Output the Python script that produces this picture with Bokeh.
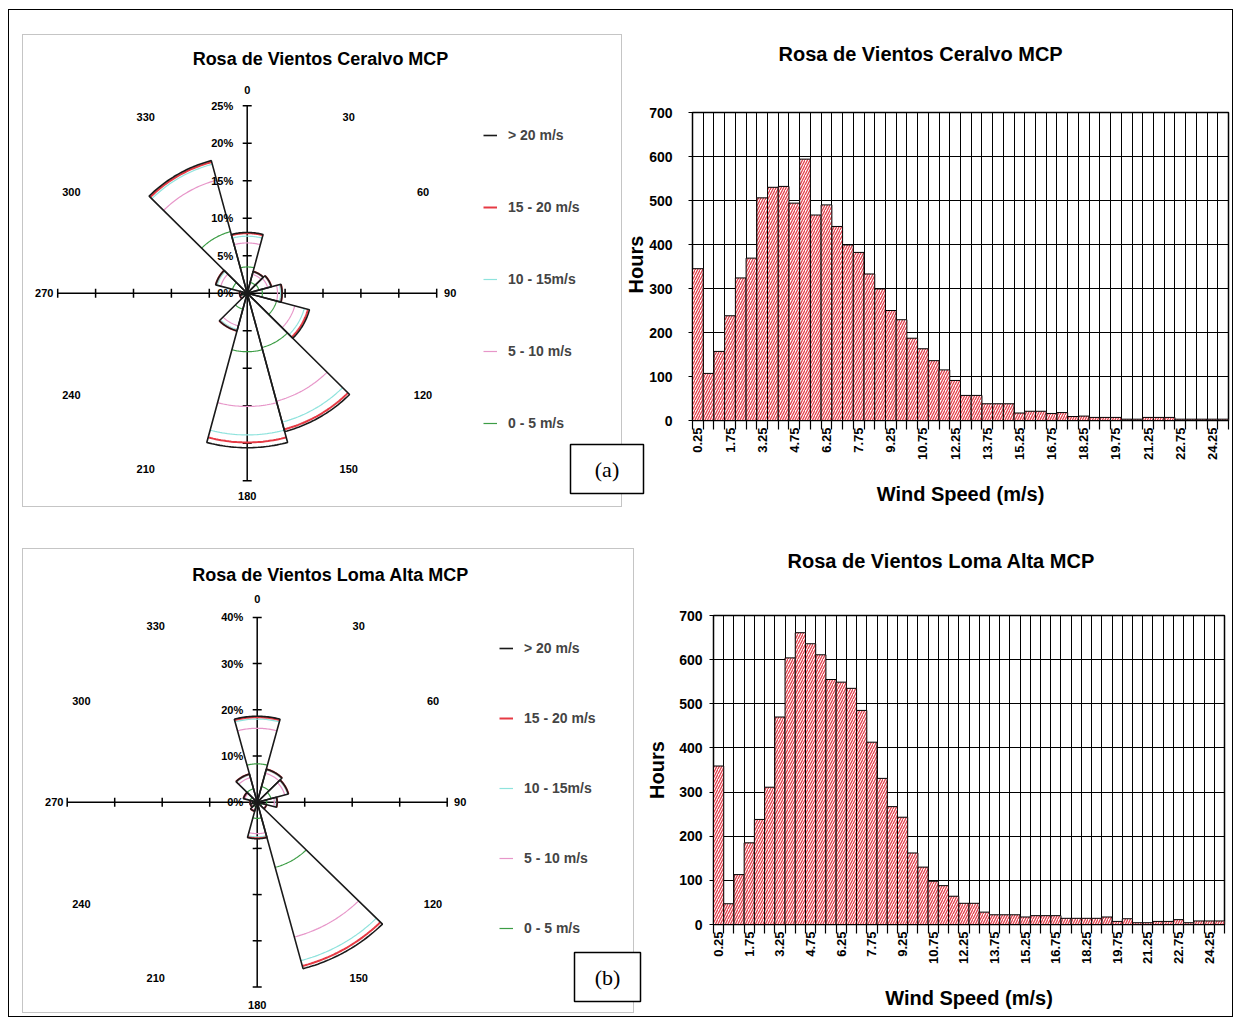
import math
import numpy as np
from bokeh.plotting import figure
from bokeh.models import Range1d, FixedTicker, Legend, LegendItem, Title
from bokeh.layouts import row, column
from bokeh.embed import file_html
from bokeh.resources import INLINE
from bokeh.core.properties import value

# ---------------- DATA ----------------
directions = [0, 30, 60, 90, 120, 150, 180, 210, 240, 270, 300, 330]
direction_labels = ["0", "30", "60", "90", "120", "150", "180", "210", "240", "270", "300", "330"]
speed_classes = ["0 - 5 m/s", "5 - 10 m/s", "10 - 15m/s", "15 - 20 m/s", "> 20 m/s"]

# Ceralvo: percent of time per sector and speed class
ceralvo_0_5 = [3.5, 1.5, 1.6, 2.0, 4.0, 7.5, 7.8, 2.2, 0.5, 0.5, 2.0, 8.5]
ceralvo_5_10 = [3.2, 1.1, 1.2, 2.0, 2.5, 7.4, 7.3, 2.3, 0.4, 0.4, 1.6, 7.1]
ceralvo_10_15 = [0.9, 0.3, 0.4, 0.4, 1.3, 2.9, 3.8, 0.5, 0.1, 0.1, 0.5, 2.2]
ceralvo_15_20 = [0.4, 0.1, 0.1, 0.2, 0.5, 1.0, 1.0, 0.2, 0.0, 0.0, 0.2, 0.3]
ceralvo_20p = [0.1, 0.0, 0.0, 0.0, 0.2, 0.3, 0.7, 0.0, 0.0, 0.0, 0.0, 0.2]
ceralvo_pct_ticks = [0, 5, 10, 15, 20, 25]
ceralvo_pct_labels = ["0%", "5%", "10%", "15%", "20%", "25%"]

# Loma Alta
loma_0_5 = [8.3, 3.5, 3.0, 2.0, 1.0, 14.6, 3.5, 1.0, 0.8, 0.8, 1.5, 3.0]
loma_5_10 = [7.7, 3.0, 3.0, 1.6, 0.8, 15.6, 3.3, 0.8, 0.5, 0.5, 1.2, 2.5]
loma_10_15 = [2.0, 0.7, 0.6, 0.4, 0.2, 5.3, 0.7, 0.2, 0.2, 0.2, 0.3, 0.6]
loma_15_20 = [0.4, 0.2, 0.2, 0.2, 0.0, 1.2, 0.3, 0.0, 0.0, 0.0, 0.0, 0.2]
loma_20p = [0.2, 0.0, 0.0, 0.0, 0.0, 0.6, 0.1, 0.0, 0.0, 0.0, 0.0, 0.0]
loma_pct_ticks = [0, 10, 20, 30, 40]
loma_pct_labels = ["0%", "10%", "20%", "30%", "40%"]

# Histograms: hours per 0.5 m/s bin
wind_speed_bins = [0.25, 0.75, 1.25, 1.75, 2.25, 2.75, 3.25, 3.75, 4.25, 4.75,
                   5.25, 5.75, 6.25, 6.75, 7.25, 7.75, 8.25, 8.75, 9.25, 9.75,
                   10.25, 10.75, 11.25, 11.75, 12.25, 12.75, 13.25, 13.75, 14.25, 14.75,
                   15.25, 15.75, 16.25, 16.75, 17.25, 17.75, 18.25, 18.75, 19.25, 19.75,
                   20.25, 20.75, 21.25, 21.75, 22.25, 22.75, 23.25, 23.75, 24.25, 24.75]
ceralvo_hours = [345, 107, 157, 238, 324, 369, 506, 530, 532, 494,
                 594, 467, 490, 441, 399, 382, 333, 299, 250, 229,
                 187, 163, 136, 115, 91, 57, 57, 38, 38, 38,
                 17, 21, 21, 16, 18, 9, 10, 7, 7, 7,
                 3, 3, 7, 7, 7, 3, 3, 3, 3, 3]
loma_hours = [359, 47, 113, 185, 238, 311, 470, 604, 661, 636,
              611, 555, 549, 535, 485, 413, 331, 267, 243, 162,
              130, 98, 88, 64, 48, 48, 28, 22, 22, 22,
              17, 20, 20, 20, 14, 14, 14, 14, 17, 7,
              13, 4, 4, 7, 7, 11, 4, 8, 8, 8]
speed_tick_values = [0.25, 1.75, 3.25, 4.75, 6.25, 7.75, 9.25, 10.75, 12.25,
                     13.75, 15.25, 16.75, 18.25, 19.75, 21.25, 22.75, 24.25]
speed_tick_labels = ["0.25", "1.75", "3.25", "4.75", "6.25", "7.75", "9.25", "10.75", "12.25",
                     "13.75", "15.25", "16.75", "18.25", "19.75", "21.25", "22.75", "24.25"]
hours_ticks = [0, 100, 200, 300, 400, 500, 600, 700]

# ---------------- STYLE ----------------
FONT = "Liberation Sans"
NARROW = "'Liberation Sans Narrow', 'Liberation Sans', sans-serif"
SERIF = "Liberation Serif"
CLASS_COLORS = ["#3c9d45", "#e796c9", "#8fe3dd", "#e63a44", "#1a1a1a"]
CLASS_WIDTHS = [1.2, 1.2, 1.2, 2.0, 1.6]
HATCH = "#e3404c"
OX, OY = 9, 10  # page position of layout content


def make_rose(width, height, left_px, top_px, center, scale, classes, pct_ticks, pct_labels,
              axis_max, title, title_xy, panel, box, box_text, legend_xy, legend_spacing,
              label_radius_px, extra_text=None):
    cx, cy = center
    sx, sy = scale
    xr = Range1d((left_px - cx) / sx, (left_px + width - cx) / sx)
    yr = Range1d((cy - (top_px + height)) / sy, (cy - top_px) / sy)
    p = figure(width=width, height=height, x_range=xr, y_range=yr, output_backend="svg",
               toolbar_location=None, min_border=0, x_axis_type=None, y_axis_type=None)
    p.grid.visible = False
    p.outline_line_color = None
    p.background_fill_color = "white"
    p.border_fill_color = "white"

    def dx(px):
        return (px - cx) / sx

    def dy(py):
        return (cy - py) / sy

    # panel border
    p.quad(left=[dx(panel[0])], right=[dx(panel[2])], top=[dy(panel[1])], bottom=[dy(panel[3])],
           fill_alpha=0, line_color="#8a8a8a", line_width=1, line_dash="1 1")

    # axes
    R = axis_max
    p.segment(x0=[-R, 0], y0=[0, -R], x1=[R, 0], y1=[0, R], line_color="black", line_width=1.5)
    tks = [t for t in pct_ticks if t > 0]
    tx = tks + [-t for t in tks]
    t_len_y = 4.5 / sy
    t_len_x = 4.5 / sx
    p.segment(x0=tx, y0=[-t_len_y] * len(tx), x1=tx, y1=[t_len_y] * len(tx),
              line_color="black", line_width=1.5)
    p.segment(x0=[-t_len_x] * len(tx), y0=tx, x1=[t_len_x] * len(tx), y1=tx,
              line_color="black", line_width=1.5)

    # sectors
    cum = np.cumsum(np.array(classes, dtype=float), axis=0)
    renderers = []
    for k in range(4):
        xs, ys = [], []
        for i, d in enumerate(directions):
            r = cum[k][i]
            if r <= 0:
                continue
            a = np.radians(np.linspace(d - 15, d + 15, 31))
            xs.append(list(r * np.sin(a)))
            ys.append(list(r * np.cos(a)))
        renderers.append(p.multi_line(xs=xs, ys=ys, line_color=CLASS_COLORS[k],
                                      line_width=CLASS_WIDTHS[k]))
    xs, ys = [], []
    for i, d in enumerate(directions):
        r = cum[4][i]
        a = np.radians(np.linspace(d - 15, d + 15, 31))
        xs.append([0.0] + list(r * np.sin(a)) + [0.0])
        ys.append([0.0] + list(r * np.cos(a)) + [0.0])
    renderers.append(p.multi_line(xs=xs, ys=ys, line_color=CLASS_COLORS[4],
                                  line_width=CLASS_WIDTHS[4]))

    # direction labels
    ang = np.radians(directions)
    lx = list(label_radius_px * np.sin(ang) / sx)
    ly = list(label_radius_px * np.cos(ang) / sy)
    p.text(x=lx, y=ly, text=direction_labels, text_font=value(FONT), text_font_style="bold",
           text_font_size="11px", text_align="center", text_baseline="middle", text_color="black")
    # percent labels
    p.text(x=[0] * len(pct_ticks), y=pct_ticks, text=pct_labels, x_offset=-14,
           text_font=value(FONT), text_font_style="bold", text_font_size="11px",
           text_align="right", text_baseline="middle", text_color="black")

    # title
    p.text(x=[dx(title_xy[0])], y=[dy(title_xy[1])], text=[title], text_font=value(FONT),
           text_font_style="bold", text_font_size="18px", text_align="center",
           text_baseline="middle", text_color="black")

    # label box
    p.quad(left=[dx(box[0])], right=[dx(box[2])], top=[dy(box[1])], bottom=[dy(box[3])],
           fill_color="white", line_color="black", line_width=1.5)
    p.text(x=[dx((box[0] + box[2]) / 2)], y=[dy((box[1] + box[3]) / 2)], text=[box_text],
           text_font=value(SERIF), text_font_size="22px", text_align="center",
           text_baseline="middle", text_color="black")

    if extra_text is not None:
        t, ex, ey = extra_text
        p.text(x=[dx(ex)], y=[dy(ey)], text=[t], angle=math.pi / 2, text_font=value(FONT),
               text_font_style="bold", text_font_size="20px", text_align="center",
               text_baseline="middle", text_color="black")

    # legend (top entry first)
    items = [LegendItem(label=speed_classes[k], renderers=[renderers[k]]) for k in [4, 3, 2, 1, 0]]
    item_h = 16
    lg_h = 5 * item_h + 4 * legend_spacing
    lg = Legend(items=items,
                location=(legend_xy[0] - left_px, (top_px + height) - (legend_xy[1] + lg_h)),
                orientation="vertical", glyph_width=14, glyph_height=item_h, label_height=item_h,
                spacing=legend_spacing, label_standoff=11, padding=0, margin=0,
                border_line_color=None, background_fill_alpha=0,
                label_text_font=FONT, label_text_font_style="bold", label_text_font_size="14px")
    p.add_layout(lg)
    return p


def make_hist(width, height, left_px, top_px, frame, hours, title, title_left, spacer_standoff,
              ylabel, ytick_standoff, xlabel_standoff):
    fl, ft, fr, fb = frame
    p = figure(width=width, height=height, x_range=Range1d(0, 25), y_range=Range1d(0, 700),
               output_backend="svg", toolbar_location=None, title=None,
               min_border_left=fl - left_px, min_border_right=left_px + width - fr,
               min_border_top=ft - top_px, min_border_bottom=top_px + height - fb)
    p.background_fill_color = "white"
    p.border_fill_color = "white"
    p.outline_line_color = "black"
    p.outline_line_width = 1.5

    edges = [b - 0.25 for b in wind_speed_bins] + [wind_speed_bins[-1] + 0.25]
    p.vbar(x=wind_speed_bins, top=hours, bottom=0, width=0.5, fill_color="white",
           line_color="black", line_width=1, hatch_pattern="/", hatch_color=HATCH,
           hatch_weight=1.3, hatch_scale=5)

    p.xgrid.ticker = FixedTicker(ticks=edges)
    p.xgrid.grid_line_color = "black"
    p.xgrid.grid_line_width = 1
    p.ygrid.ticker = FixedTicker(ticks=hours_ticks)
    p.ygrid.grid_line_color = "black"
    p.ygrid.grid_line_width = 1

    xa = p.xaxis[0]
    xa.ticker = FixedTicker(ticks=speed_tick_values, minor_ticks=edges)
    xa.major_label_overrides = {v: s for v, s in zip(speed_tick_values, speed_tick_labels)}
    xa.major_label_orientation = math.pi / 2
    xa.major_tick_line_color = None
    xa.major_tick_out = 0
    xa.major_tick_in = 0
    xa.minor_tick_out = 9
    xa.minor_tick_in = 0
    xa.minor_tick_line_color = "black"
    xa.minor_tick_line_width = 1.2
    xa.major_label_standoff = -2
    xa.major_label_text_font = FONT
    xa.major_label_text_font_style = "bold"
    xa.major_label_text_font_size = "13px"
    xa.major_label_text_color = "black"
    xa.axis_line_color = "black"
    xa.axis_label = "Wind Speed (m/s)"
    xa.axis_label_text_font = FONT
    xa.axis_label_text_font_style = "bold"
    xa.axis_label_text_font_size = "20px"
    xa.axis_label_text_color = "black"
    xa.axis_label_standoff = xlabel_standoff

    ya = p.yaxis[0]
    ya.ticker = FixedTicker(ticks=hours_ticks)
    ya.major_tick_out = 4
    ya.major_tick_in = 0
    ya.minor_tick_line_color = None
    ya.major_label_standoff = ytick_standoff
    ya.major_label_text_font = NARROW
    ya.major_label_text_font_style = "bold"
    ya.major_label_text_font_size = "14px"
    ya.major_label_text_color = "black"
    ya.axis_line_color = "black"
    if ylabel:
        ya.axis_label = ylabel
        ya.axis_label_text_font = FONT
        ya.axis_label_text_font_style = "bold"
        ya.axis_label_text_font_size = "20px"
        ya.axis_label_text_color = "black"
        ya.axis_label_standoff = 8

    # empty spacer title next to the frame, then the real title above it
    p.add_layout(Title(text=" ", text_font_size="20px", standoff=spacer_standoff), "above")
    p.add_layout(Title(text=title, text_font=FONT, text_font_style="bold", text_font_size="20px",
                       text_color="black", align="left", offset=title_left - fl, standoff=0),
                 "above")
    return p


ceralvo_classes = [ceralvo_0_5, ceralvo_5_10, ceralvo_10_15, ceralvo_15_20, ceralvo_20p]
loma_classes = [loma_0_5, loma_5_10, loma_10_15, loma_15_20, loma_20p]

rose_a = make_rose(636, 514, OX, OY, (246.7, 292.7), (7.58, 7.5), ceralvo_classes,
                   ceralvo_pct_ticks, ceralvo_pct_labels, 25, "Rosa de Vientos Ceralvo MCP",
                   (320, 58), (22, 34, 621, 506), (570, 444, 643, 493), "(a)",
                   (483, 127), 56, 203, extra_text=("Hours", 635, 264))
hist_a = make_hist(587, 514, 645, OY, (692, 112, 1228, 420), ceralvo_hours,
                   "Rosa de Vientos Ceralvo MCP", 778, 24, None, 16, 20)

rose_b = make_rose(634, 492, OX, 524, (256.7, 801.7), (4.75, 4.62), loma_classes,
                   loma_pct_ticks, loma_pct_labels, 40, "Rosa de Vientos Loma Alta MCP",
                   (330, 574), (22, 548, 633, 1012), (574, 952, 640, 1001), "(b)",
                   (499, 640), 54, 203)
hist_b = make_hist(589, 492, 643, 524, (703, 615, 1224, 924), loma_hours,
                   "Rosa de Vientos Loma Alta MCP", 777, 20, "Hours", 7, 20)

row_a = row(column(rose_a), column(hist_a))
row_b = row(column(rose_b), column(hist_b))
layout = column(row_a, row_b, margin=(9, 0, 0, 8), styles={"border": "1px solid black"})

open("out.html", "w").write(file_html(layout, INLINE))
